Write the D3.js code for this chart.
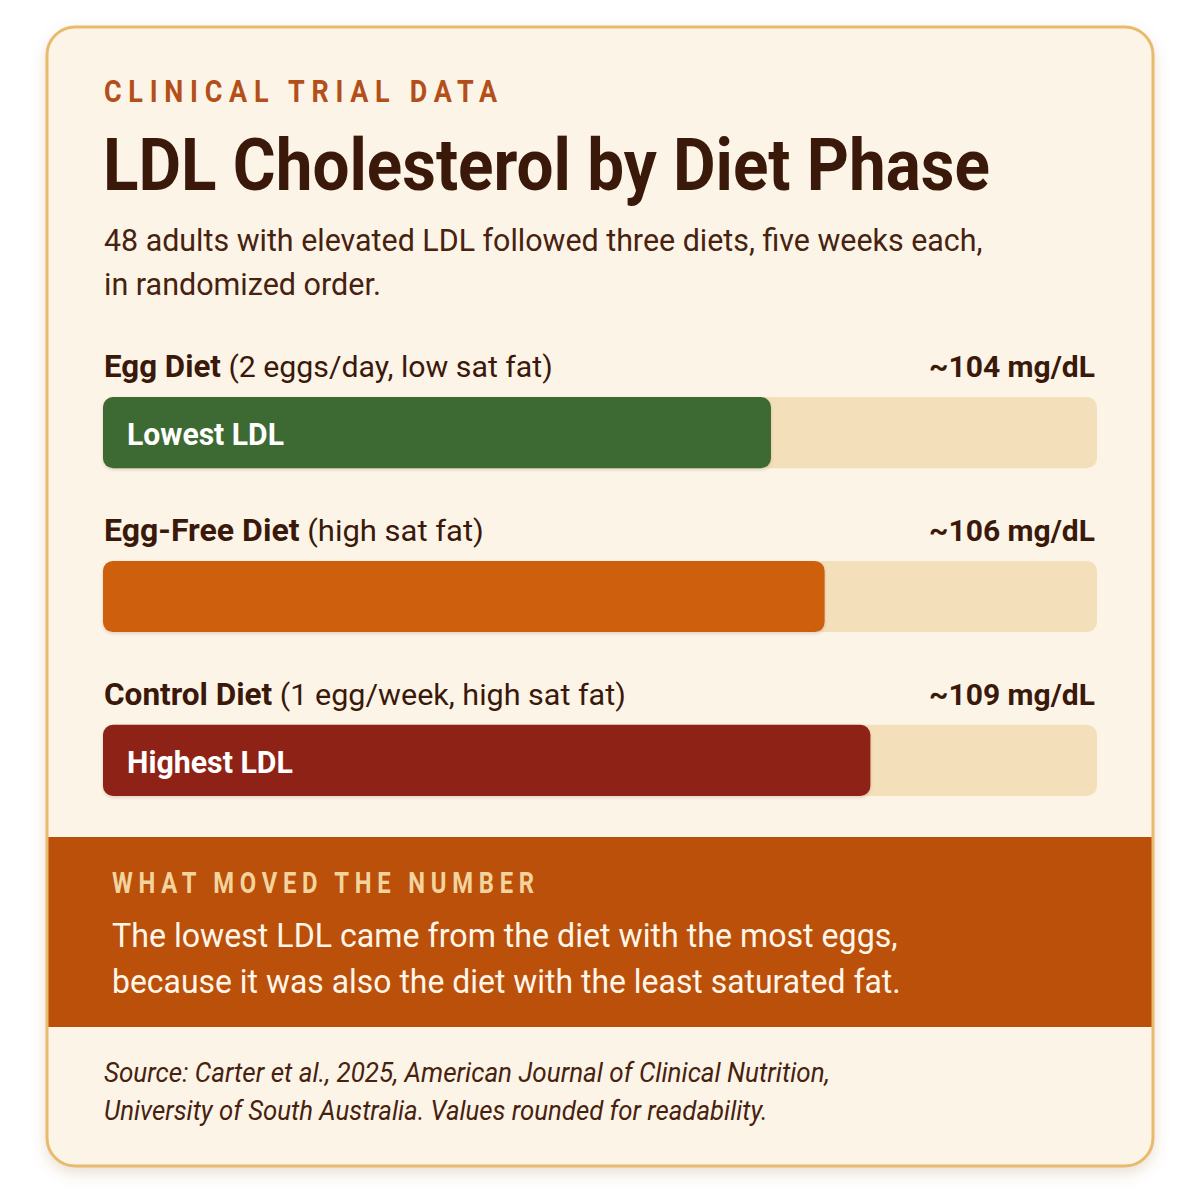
<!DOCTYPE html>
<html>
<head>
<meta charset="utf-8">
<script src="https://cdn.jsdelivr.net/npm/d3@7"></script>
<style>
  html, body { margin: 0; padding: 0; background: #ffffff; }
  svg { display: block; }
  text { font-family: Roboto, "Noto Sans", "Liberation Sans", sans-serif; }
</style>
</head>
<body>
<svg id="chart" width="1200" height="1200"></svg>
<script>
// ---------- data ----------
const diets = ["Egg Diet", "Egg-Free Diet", "Control Diet"];
const details = ["(2 eggs/day, low sat fat)", "(high sat fat)", "(1 egg/week, high sat fat)"];
const ldl = [103.6, 106.3, 108.6];               // mg/dL
const badges = ["Lowest LDL", "", "Highest LDL"];
const scaleDomain = [70, 120];

const eyebrow = "CLINICAL TRIAL DATA";
const title = "LDL Cholesterol by Diet Phase";
const subtitleLines = ["48 adults with elevated LDL followed three diets, five weeks each,", "in randomized order."];
const kicker = "WHAT MOVED THE NUMBER";
const takeawayLines = ["The lowest LDL came from the diet with the most eggs,", "because it was also the diet with the least saturated fat."];
const sourceLines = ["Source: Carter et al., 2025, American Journal of Clinical Nutrition,", "University of South Australia. Values rounded for readability."];

// ---------- styles ----------
const barColors = ["#3d6a31", "#cd5f0b", "#8f2317"];
const C = {
  card: "#fcf4e7", border: "#e9ba6c", eyebrow: "#b3501a", title: "#3a190b",
  text: "#47220f", track: "#f4dfbb", panel: "#bb500a", kicker: "#f3d49e", panelText: "#fff6ea"
};

const svg = d3.select("#chart");
const defs = svg.append("defs");
const sh = defs.append("filter").attr("id", "shadow").attr("x", "-10%").attr("y", "-10%").attr("width", "120%").attr("height", "125%");
sh.append("feDropShadow").attr("dx", 0).attr("dy", 6).attr("stdDeviation", 8).attr("flood-color", "#8a5a20").attr("flood-opacity", 0.22);
const bsh = defs.append("filter").attr("id", "barshadow").attr("x", "-5%").attr("y", "-20%").attr("width", "110%").attr("height", "150%");
bsh.append("feDropShadow").attr("dx", 0).attr("dy", 1.5).attr("stdDeviation", 1.5).attr("flood-color", "#5a3010").attr("flood-opacity", 0.18);

// card
const card = { x: 47, y: 27, w: 1106, h: 1139, r: 28 };
defs.append("clipPath").attr("id", "cardclip").append("rect")
  .attr("x", card.x).attr("y", card.y).attr("width", card.w).attr("height", card.h).attr("rx", card.r);
svg.append("rect").attr("x", card.x).attr("y", card.y).attr("width", card.w).attr("height", card.h)
  .attr("rx", card.r).attr("fill", C.card).attr("filter", "url(#shadow)");

// helper: place text and condense it horizontally to a target width
function fitText(g, x, y, width, anchor) {
  const node = g.node();
  const w0 = node.getComputedTextLength ? node.getBBox().width : width;
  const sx = width / w0;
  g.attr("x", 0).attr("y", 0).attr("text-anchor", anchor || "start")
   .attr("transform", `translate(${x},${y}) scale(${sx},1)`);
  return g;
}

// header
fitText(svg.append("text").text(eyebrow).attr("font-size", 32).attr("font-weight", 700)
  .attr("letter-spacing", 8).attr("fill", C.eyebrow), 104, 102, 400);
fitText(svg.append("text").text(title).attr("font-size", 73).attr("font-weight", 700)
  .attr("fill", C.title), 103, 190, 887);
subtitleLines.forEach((s, i) => {
  const t = svg.append("text").text(s).attr("font-size", 31).attr("fill", C.text);
  fitText(t, 104, 251 + i * 44, i === 0 ? 879 : 277);
});

// scales
const trackX0 = 103, trackX1 = 1097;
const x = d3.scaleLinear().domain(scaleDomain).range([trackX0, trackX1]);
const y = d3.scaleBand().domain(diets).range([397, 796]).paddingInner(0.566).paddingOuter(0);

const labelWidths = [449, 380, 522];
const badgeWidths = [157, 0, 166];

const rows = svg.append("g").selectAll("g").data(diets).join("g");

rows.append("rect")
  .attr("x", x(scaleDomain[0])).attr("y", d => y(d))
  .attr("width", x(scaleDomain[1]) - x(scaleDomain[0])).attr("height", y.bandwidth())
  .attr("rx", 10).attr("fill", C.track);

rows.append("rect")
  .attr("x", x(scaleDomain[0])).attr("y", d => y(d))
  .attr("width", (d, i) => x(ldl[i]) - x(scaleDomain[0])).attr("height", y.bandwidth())
  .attr("rx", 10).attr("fill", (d, i) => barColors[i]).attr("filter", "url(#barshadow)");

rows.each(function (d, i) {
  const g = d3.select(this);
  const lab = g.append("text").attr("font-size", 31).attr("fill", C.title);
  lab.append("tspan").text(d).attr("font-weight", 700);
  lab.append("tspan").text(" " + details[i]).attr("font-weight", 400).attr("font-size", 30);
  fitText(lab, 104, y(d) - 20, labelWidths[i]);

  const val = g.append("text").text("~" + Math.round(ldl[i]) + " mg/dL")
    .attr("font-size", 30).attr("font-weight", 700).attr("fill", C.title);
  fitText(val, 1095, y(d) - 20, 166, "end");

  if (badges[i]) {
    const b = g.append("text").text(badges[i]).attr("font-size", 32).attr("font-weight", 700)
      .attr("fill", "#ffffff");
    fitText(b, 127, y(d) + 48, badgeWidths[i]);
  }
});

// takeaway panel
const panel = svg.append("g").attr("clip-path", "url(#cardclip)");
panel.append("rect").attr("x", card.x).attr("y", 837).attr("width", card.w).attr("height", 190).attr("fill", C.panel);
fitText(panel.append("text").text(kicker).attr("font-size", 29).attr("font-weight", 700)
  .attr("letter-spacing", 7).attr("fill", C.kicker), 112, 893, 428);
takeawayLines.forEach((s, i) => {
  const t = panel.append("text").text(s).attr("font-size", 34).attr("fill", C.panelText);
  fitText(t, 112, 947 + i * 46, i === 0 ? 786 : 789);
});

// source
sourceLines.forEach((s, i) => {
  const t = svg.append("text").text(s).attr("font-size", 27).attr("font-style", "italic").attr("fill", C.text);
  fitText(t, 104, 1082 + i * 38, i === 0 ? 726 : 664);
});

// card border on top
svg.append("rect").attr("x", card.x).attr("y", card.y).attr("width", card.w).attr("height", card.h)
  .attr("rx", card.r).attr("fill", "none").attr("stroke", C.border).attr("stroke-width", 3);
</script>
</body>
</html>
